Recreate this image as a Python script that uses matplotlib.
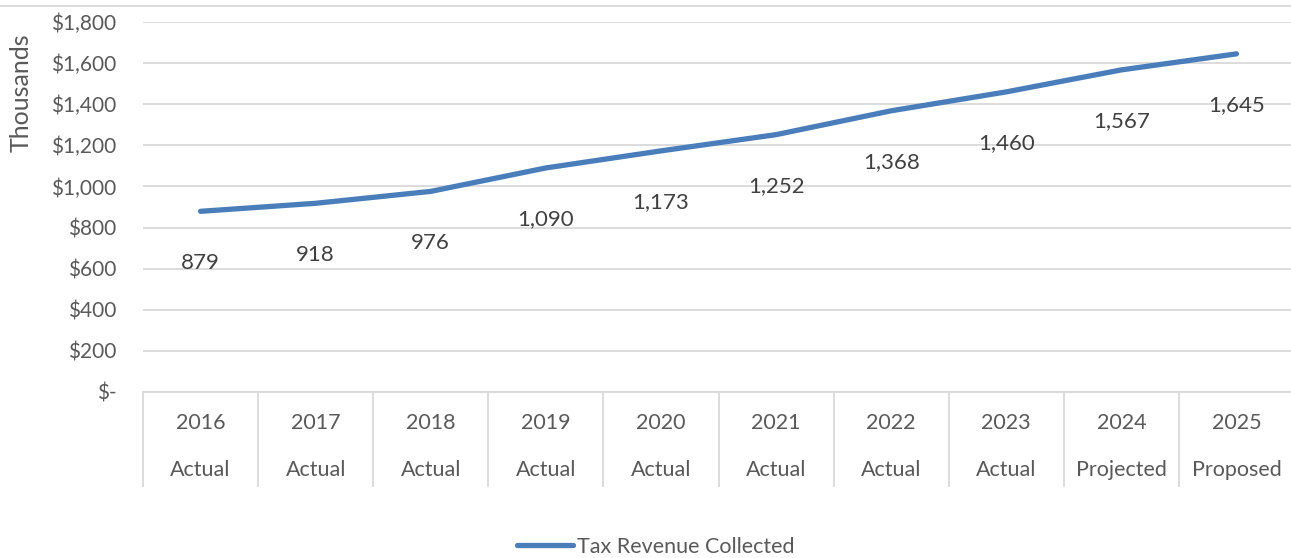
import matplotlib
matplotlib.use("Agg")
import matplotlib.pyplot as plt
from matplotlib.lines import Line2D
from matplotlib.ticker import FuncFormatter

plt.rcParams['font.family'] = ['Lato', 'DejaVu Sans']

years = ['2016', '2017', '2018', '2019', '2020', '2021', '2022', '2023', '2024', '2025']
status = ['Actual', 'Actual', 'Actual', 'Actual', 'Actual', 'Actual', 'Actual', 'Actual',
          'Projected', 'Proposed']
revenue = [879, 918, 976, 1090, 1173, 1252, 1368, 1460, 1567, 1645]

txt_gray = '#595959'
grid_gray = '#d9d9d9'
blue = '#4a7ebb'

fig = plt.figure(figsize=(12.91, 5.58), dpi=100)
ax = fig.add_axes([143 / 1291, 1 - 392 / 558, 1151 / 1291, 370 / 558])

x = list(range(len(years)))
line, = ax.plot(x, revenue, color=blue, lw=3.8, solid_capstyle='round',
                label='Tax Revenue Collected', zorder=3)

# value labels sit below each point
for xi, v in zip(x, revenue):
    ax.annotate(f'{v:,}', (xi, v), xytext=(0, -37), textcoords='offset points',
                ha='center', va='center', fontsize=16, color='#404040')

ax.set_xlim(-0.5, len(years) - 0.5)
ax.set_ylim(0, 1800)
ax.set_yticks(range(0, 1801, 200))
ax.yaxis.set_major_formatter(FuncFormatter(lambda v, p: '$-' if v == 0 else f'${v:,.0f}'))
ax.tick_params(axis='y', length=0, pad=19, labelsize=15, labelcolor=txt_gray)
ax.set_xticks([])
ax.grid(axis='y', color=grid_gray, lw=1.3)
ax.set_axisbelow(True)
for s in ['top', 'right', 'left']:
    ax.spines[s].set_visible(False)
ax.spines['bottom'].set_color(grid_gray)
ax.spines['bottom'].set_linewidth(1.3)

ax.set_ylabel('Thousands', fontsize=18, color=txt_gray, va='center')
ax.yaxis.set_label_coords(-0.106, 0.808)

# two-level category axis with separators
trans = ax.get_xaxis_transform()
for b in range(len(years) + 1):
    ax.plot([b - 0.5, b - 0.5], [0, -0.254], transform=trans, color=grid_gray,
            lw=1.3, clip_on=False)
for xi, (yr, st) in enumerate(zip(years, status)):
    ax.text(xi, -0.084, yr, transform=trans, ha='center', va='center',
            fontsize=15.5, color=txt_gray)
    ax.text(xi, -0.211, st, transform=trans, ha='center', va='center',
            fontsize=15.5, color=txt_gray)

# thin border along the top of the chart
fig.add_artist(Line2D([0, 1], [1 - 6 / 558, 1 - 6 / 558], transform=fig.transFigure,
                      color=grid_gray, lw=1.3))

fig.legend(handles=[line], loc='center', bbox_to_anchor=(0.508, 0.02), frameon=False,
           fontsize=15.5, labelcolor=txt_gray, handlelength=2.6, handletextpad=0.2)

fig.savefig('out.png', dpi=100)
